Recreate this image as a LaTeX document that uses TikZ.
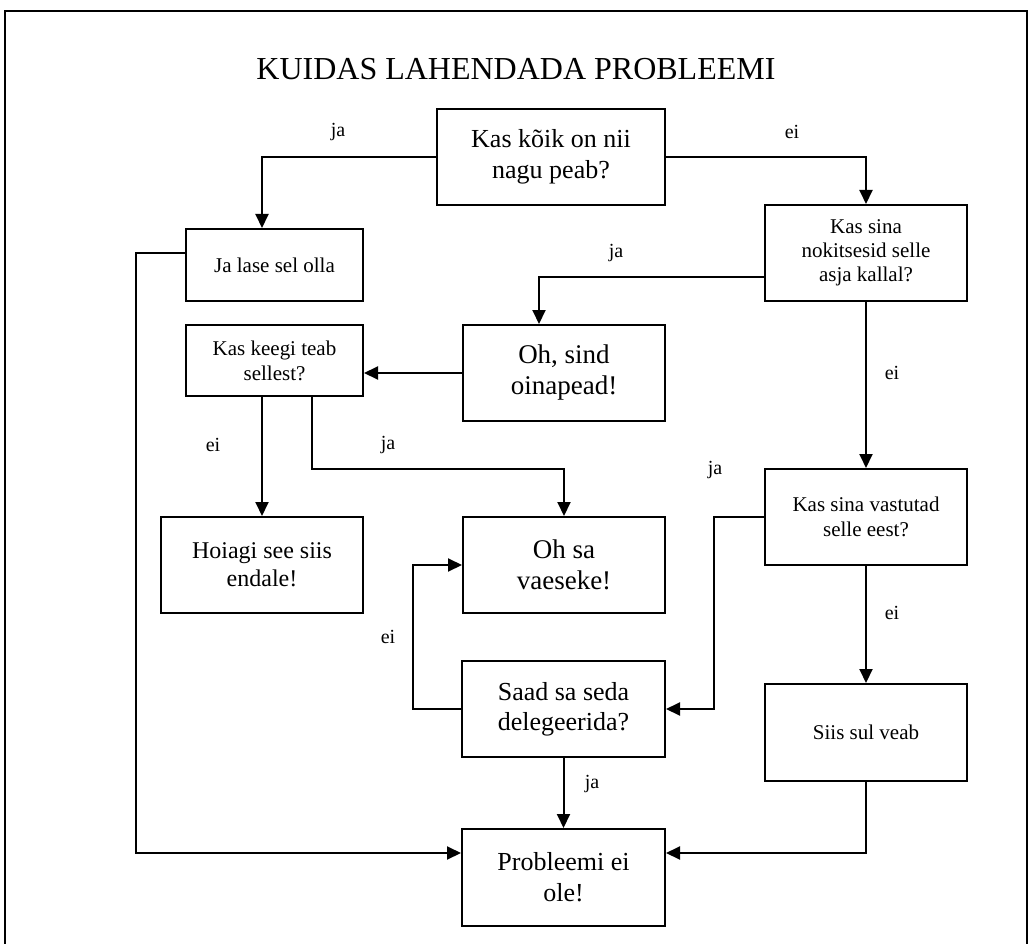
\documentclass[tikz,border=0pt]{standalone}
\usepackage{fontspec}
\setmainfont{Liberation Serif}
\usetikzlibrary{arrows.meta,calc}
\begin{document}
\begin{tikzpicture}[x=1pt,y=-1pt,
  box/.style={draw,line width=2pt,rectangle,align=center,inner sep=0pt},
  conn/.style={line width=2pt},
  arr/.style={conn,-{Triangle[length=14pt,width=13pt]}},
  lbl/.style={font=\fontsize{20}{24}\selectfont,inner sep=0pt}]
\clip (0,0) rectangle (1031,944);
\fill[white] (0,0) rectangle (1031,944);
% frame
\draw[line width=2.6pt] (5,960) -- (5,11) -- (1027,11) -- (1027,960);
% title
\node[font=\fontsize{32}{37}\selectfont] (title) at (516,69) {KUIDAS LAHENDADA PROBLEEMI};
% boxes
\node[box,minimum width=228pt,minimum height=96pt,font=\fontsize{26}{31}\selectfont] (b1) at (551,157) {Kas kõik on nii\\nagu peab?};
\node[box,minimum width=177pt,minimum height=72pt,font=\fontsize{21}{25}\selectfont] (b2) at (274.5,265) {Ja lase sel olla};
\node[box,minimum width=202pt,minimum height=96pt,font=\fontsize{21}{24}\selectfont] (b3) at (866,253) {Kas sina\\nokitsesid selle\\asja kallal?};
\node[box,minimum width=177pt,minimum height=71pt,font=\fontsize{21}{25}\selectfont] (b4) at (274.5,360.5) {Kas keegi teab\\sellest?};
\node[box,minimum width=202pt,minimum height=96pt,font=\fontsize{27}{31}\selectfont] (b5) at (564,373) {Oh, sind\\oinapead!};
\node[box,minimum width=202pt,minimum height=96pt,font=\fontsize{24}{28}\selectfont] (b6) at (262,565) {Hoiagi see siis\\endale!};
\node[box,minimum width=202pt,minimum height=96pt,font=\fontsize{27}{31}\selectfont] (b7) at (564,565) {Oh sa\\vaeseke!};
\node[box,minimum width=202pt,minimum height=96pt,font=\fontsize{21}{25}\selectfont] (b8) at (866,517) {Kas sina vastutad\\selle eest?};
\node[box,minimum width=203pt,minimum height=96pt,font=\fontsize{26}{30}\selectfont] (b9) at (563.5,709) {Saad sa seda\\delegeerida?};
\node[box,minimum width=202pt,minimum height=97pt,font=\fontsize{21}{25}\selectfont] (b10) at (866,732.5) {Siis sul veab};
\node[box,minimum width=203pt,minimum height=97pt,font=\fontsize{26}{31}\selectfont] (b11) at (563.5,877.5) {Probleemi ei\\ole!};
% coordinates
\coordinate (k1) at (312,469);
\coordinate (k2) at (714,709);
\coordinate (k3) at (413,565);
\coordinate (k4) at (136,853);
% connectors
\draw[arr] (b1.west) -| ([xshift=-12.5pt]b2.north);
\draw[arr] (b1.east) -| (b3.north);
\draw[arr] ([yshift=-24pt]b3.west) -| ([xshift=-25pt]b5.north);
\draw[arr] (b3.south) -- (b8.north);
\draw[arr] (b5.west) -- (b5.west -| b4.east);
\draw[arr] (b4.south -| b6.north) -- (b6.north);
\draw[arr] (b4.south -| k1) -- (k1) -| (b7.north);
\draw[arr] (b8.west) -| (k2) -- (b9.east);
\draw[arr] (b9.west) -| (k3) -- (b7.west);
\draw[arr] (b9.south) -- (b11.north);
\draw[arr] (b8.south) -- (b10.north);
\draw[arr] (b10.south) |- ([yshift=24.5pt]b11.east);
\draw[arr] ([yshift=12pt]b2.west) -| (k4) -- ([yshift=24.5pt]b11.west);
% labels
\node[lbl] (l1) at (338,132) {ja};
\node[lbl] (l2) at (792,132) {ei};
\node[lbl] (l3) at (616,253) {ja};
\node[lbl] (l4) at (892,373) {ei};
\node[lbl] (l5) at (213,445) {ei};
\node[lbl] (l6) at (388,445) {ja};
\node[lbl] (l7) at (715,470) {ja};
\node[lbl] (l8) at (388,637) {ei};
\node[lbl] (l9) at (592,784) {ja};
\node[lbl] (l10) at (892,613) {ei};
\end{tikzpicture}
\end{document}
